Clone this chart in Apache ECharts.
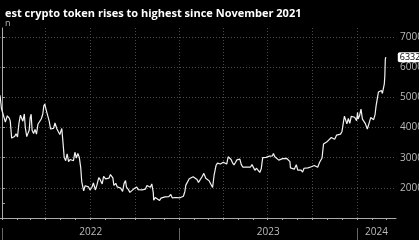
<!DOCTYPE html>
<html><head><meta charset="utf-8">
<style>html,body{margin:0;padding:0;background:#000;}#c{width:419px;height:240px;}</style>
<script src="https://cdn.jsdelivr.net/npm/echarts@6/dist/echarts.min.js"></script>
</head><body><div id="c"></div>
<script>
const titleText = 'est crypto token rises to highest since November 2021';
const unitText = 'n';
const dates = [
'2021-12-28','2021-12-31','2022-01-03','2022-01-05','2022-01-08','2022-01-12','2022-01-16','2022-01-18','2022-01-21','2022-01-24','2022-01-27','2022-01-30',
'2022-02-02','2022-02-05','2022-02-08','2022-02-10','2022-02-13','2022-02-16','2022-02-18','2022-02-21','2022-02-24','2022-02-26','2022-02-28',
'2022-03-02','2022-03-04','2022-03-07','2022-03-10','2022-03-13','2022-03-16','2022-03-20','2022-03-23','2022-03-26','2022-03-28','2022-03-30',
'2022-04-02','2022-04-05','2022-04-08','2022-04-11','2022-04-14','2022-04-17','2022-04-20','2022-04-24','2022-04-27','2022-04-30',
'2022-05-04','2022-05-06','2022-05-09','2022-05-12','2022-05-15','2022-05-18','2022-05-21','2022-05-25','2022-05-28','2022-05-31',
'2022-06-03','2022-06-06','2022-06-09','2022-06-12','2022-06-14','2022-06-18','2022-06-21','2022-06-24','2022-06-28',
'2022-07-01','2022-07-05','2022-07-08','2022-07-12','2022-07-15','2022-07-19','2022-07-22','2022-07-26','2022-07-29',
'2022-08-02','2022-08-05','2022-08-09','2022-08-12','2022-08-15','2022-08-17','2022-08-19','2022-08-23','2022-08-26','2022-08-29',
'2022-09-02','2022-09-06','2022-09-09','2022-09-12','2022-09-14','2022-09-18','2022-09-21','2022-09-25','2022-09-28',
'2022-10-02','2022-10-05','2022-10-08','2022-10-12','2022-10-16','2022-10-20','2022-10-23','2022-10-26','2022-10-30',
'2022-11-02','2022-11-05','2022-11-08','2022-11-09','2022-11-12','2022-11-16','2022-11-21','2022-11-24','2022-11-28',
'2022-12-02','2022-12-06','2022-12-10','2022-12-14','2022-12-17','2022-12-21','2022-12-25','2022-12-29',
'2023-01-02','2023-01-06','2023-01-09','2023-01-12','2023-01-14','2023-01-18','2023-01-21','2023-01-25','2023-01-29',
'2023-02-02','2023-02-06','2023-02-09','2023-02-13','2023-02-16','2023-02-20','2023-02-24','2023-02-28',
'2023-03-03','2023-03-07','2023-03-10','2023-03-13','2023-03-15','2023-03-17','2023-03-20','2023-03-23','2023-03-26','2023-03-29',
'2023-04-01','2023-04-05','2023-04-08','2023-04-11','2023-04-14','2023-04-17','2023-04-20','2023-04-23','2023-04-26','2023-04-29',
'2023-05-02','2023-05-05','2023-05-08','2023-05-11','2023-05-15','2023-05-19','2023-05-23','2023-05-27','2023-05-30',
'2023-06-02','2023-06-05','2023-06-08','2023-06-12','2023-06-15','2023-06-18','2023-06-21','2023-06-24','2023-06-28',
'2023-07-01','2023-07-05','2023-07-08','2023-07-11','2023-07-13','2023-07-16','2023-07-20','2023-07-24','2023-07-28',
'2023-08-01','2023-08-05','2023-08-09','2023-08-13','2023-08-16','2023-08-17','2023-08-21','2023-08-25','2023-08-29',
'2023-09-01','2023-09-05','2023-09-08','2023-09-11','2023-09-14','2023-09-18','2023-09-22','2023-09-26','2023-09-29',
'2023-10-02','2023-10-05','2023-10-09','2023-10-12','2023-10-16','2023-10-19','2023-10-21','2023-10-23','2023-10-24','2023-10-28',
'2023-11-01','2023-11-05','2023-11-09','2023-11-12','2023-11-16','2023-11-20','2023-11-24','2023-11-28',
'2023-12-01','2023-12-04','2023-12-06','2023-12-08','2023-12-11','2023-12-14','2023-12-17','2023-12-20','2023-12-23','2023-12-27','2023-12-31',
'2024-01-02','2024-01-03','2024-01-06','2024-01-09','2024-01-11','2024-01-12','2024-01-15','2024-01-18','2024-01-20','2024-01-22','2024-01-24','2024-01-27','2024-01-29',
'2024-02-01','2024-02-04','2024-02-07','2024-02-09','2024-02-12','2024-02-14','2024-02-17','2024-02-20','2024-02-22','2024-02-24','2024-02-26','2024-02-27','2024-02-28','2024-02-29'
];
const prices = [
50700,46300,46400,43500,41800,43900,43100,42200,36500,36700,37000,37900,
36900,41500,44100,44300,42100,44500,40000,37000,38300,39100,43200,
44400,39100,38000,39400,37800,41100,41300,42900,44500,47100,47800,
45800,45500,42200,39500,39900,39700,41500,39500,39200,37700,
39700,36000,30100,29000,31300,28700,29400,29500,29000,31800,
29900,31400,30100,26600,22100,19000,20700,21200,20300,
19300,20200,21600,19300,20800,23400,22700,21300,23800,
23000,23200,23200,24400,24100,23300,20800,21500,20300,20300,
19900,18800,21400,22400,20200,19400,18500,18800,19500,
19300,20300,19400,19100,19300,19100,19600,20800,20600,
20200,21300,18500,15900,16800,16600,15800,16600,16200,
17000,17100,17100,17800,16700,16800,16800,16600,
16700,16900,17200,18800,20900,20700,23000,22900,23700,
23400,22800,21800,21800,23600,24800,23200,23100,
22300,22400,20100,24100,24400,27400,28200,28300,27900,28400,
28500,28200,27900,30300,30500,29400,28300,27600,28400,29300,
28700,29500,27700,26900,27200,26900,27200,26900,27700,
27200,25800,26500,25900,25100,26300,30000,30500,30100,
30600,30500,30300,30600,31400,30300,29900,29200,29300,
29700,29100,29800,29400,28700,26600,26100,26200,27700,
25900,25800,25900,25200,26500,26800,26600,26300,27000,
27500,27400,27600,26800,28500,28700,29900,33000,34500,34100,
35400,35000,36700,37100,36100,37500,37700,37800,
38700,41900,43800,44200,41200,43000,41400,43700,43700,43400,42300,
45000,42800,43900,46100,46600,42800,42500,41300,41600,39500,40100,42100,43300,
43100,42600,44300,47100,50000,51800,51600,52300,51300,51600,54500,57000,62500,63320
];
const yearLabels = ['2022','2023','2024'];
const yAxisLabels = [20000,30000,40000,50000,60000,70000];

const base = Date.UTC(2022,0,1);
const dayOf = s => Math.round((Date.parse(s) - base) / 86400000);
const data = dates.map((d, i) => [dayOf(d), prices[i]]);
const xMin = -4, xMax = 810;
const yearStarts = yearLabels.map(y => dayOf(y + '-01-01'));
const yearMids = yearStarts.map((s, i) => ((i + 1 < yearStarts.length ? yearStarts[i + 1] : xMax) + s) / 2);
const monthStarts = [], quarterStarts = [];
for (let y = 2022; y <= 2024; y++) for (let m = 0; m < 12; m++) {
  const d = (Date.UTC(y, m, 1) - base) / 86400000;
  if (d >= xMin && d <= xMax) { monthStarts.push(d); if (m % 3 === 0) quarterStarts.push(d); }
}
const lastVal = prices[prices.length - 1];

const chart = echarts.init(document.getElementById('c'), null, {renderer: 'canvas'});
const axisGray = '#aaaaaa';
const gridCol = '#4a4a4a';
const base0 = {type: 'value', min: xMin, max: xMax, gridIndex: 0};
chart.setOption({
  backgroundColor: '#000',
  animation: false,
  title: [
    {text: titleText, left: 0, top: 3, textStyle: {color: '#fff', fontSize: 11, fontWeight: 'bold', fontFamily: 'Open Sans'}},
    {text: unitText, left: 0, top: 14, textStyle: {color: '#bbb', fontSize: 9, fontWeight: 'normal', fontFamily: 'Open Sans'}}
  ],
  grid: {left: 0, right: 23, top: 28, bottom: 22, containLabel: false, outerBoundsMode: 'none'},
  xAxis: [
    Object.assign({}, base0, {
      position: 'bottom',
      axisLine: {show: true, lineStyle: {color: axisGray, width: 1}},
      axisTick: {show: true, customValues: monthStarts, length: 2, lineStyle: {color: axisGray}},
      axisLabel: {show: true, customValues: yearMids, margin: 9, color: '#bbb', fontSize: 10, fontFamily: 'Open Sans',
        formatter: v => { const i = yearMids.findIndex(m => Math.abs(m - v) < 1); return i >= 0 ? yearLabels[i] : ''; }},
      splitLine: {show: false}
    }),
    Object.assign({}, base0, {
      position: 'bottom',
      axisLine: {show: false},
      axisTick: {show: false, customValues: quarterStarts},
      axisLabel: {show: false},
      splitLine: {show: true, lineStyle: {color: gridCol, type: [1, 2], width: 1}}
    }),
    Object.assign({}, base0, {
      position: 'bottom', offset: 10,
      axisLine: {show: false},
      axisTick: {show: true, customValues: yearStarts, length: 12, lineStyle: {color: '#666'}},
      axisLabel: {show: false},
      splitLine: {show: false}
    })
  ],
  yAxis: [
    {type: 'value', min: 10000, max: 73000, position: 'right',
      axisLine: {show: true, lineStyle: {color: axisGray}},
      axisTick: {show: true, customValues: [15000].concat(yAxisLabels), length: 3, lineStyle: {color: axisGray}},
      axisLabel: {show: true, customValues: yAxisLabels, margin: 4, color: '#bbb', fontSize: 10, fontFamily: 'Open Sans', formatter: v => String(v)},
      splitLine: {show: false}},
    {type: 'value', min: 10000, max: 73000, position: 'right',
      axisLine: {show: false},
      axisTick: {show: false, customValues: yAxisLabels},
      axisLabel: {show: false},
      splitLine: {show: true, lineStyle: {color: gridCol, type: [1, 2], width: 1}}}
  ],
  series: [{
    type: 'line', xAxisIndex: 0, yAxisIndex: 0, data: data, showSymbol: false,
    lineStyle: {color: '#f2f2f2', width: 1.2}, z: 5,
    endLabel: {show: true, formatter: () => String(lastVal), distance: 12,
      backgroundColor: '#fff', color: '#000', fontSize: 9, fontFamily: 'Open Sans', padding: [1, 2, 0, 2], borderRadius: 2}
  }]
});
</script></body></html>
